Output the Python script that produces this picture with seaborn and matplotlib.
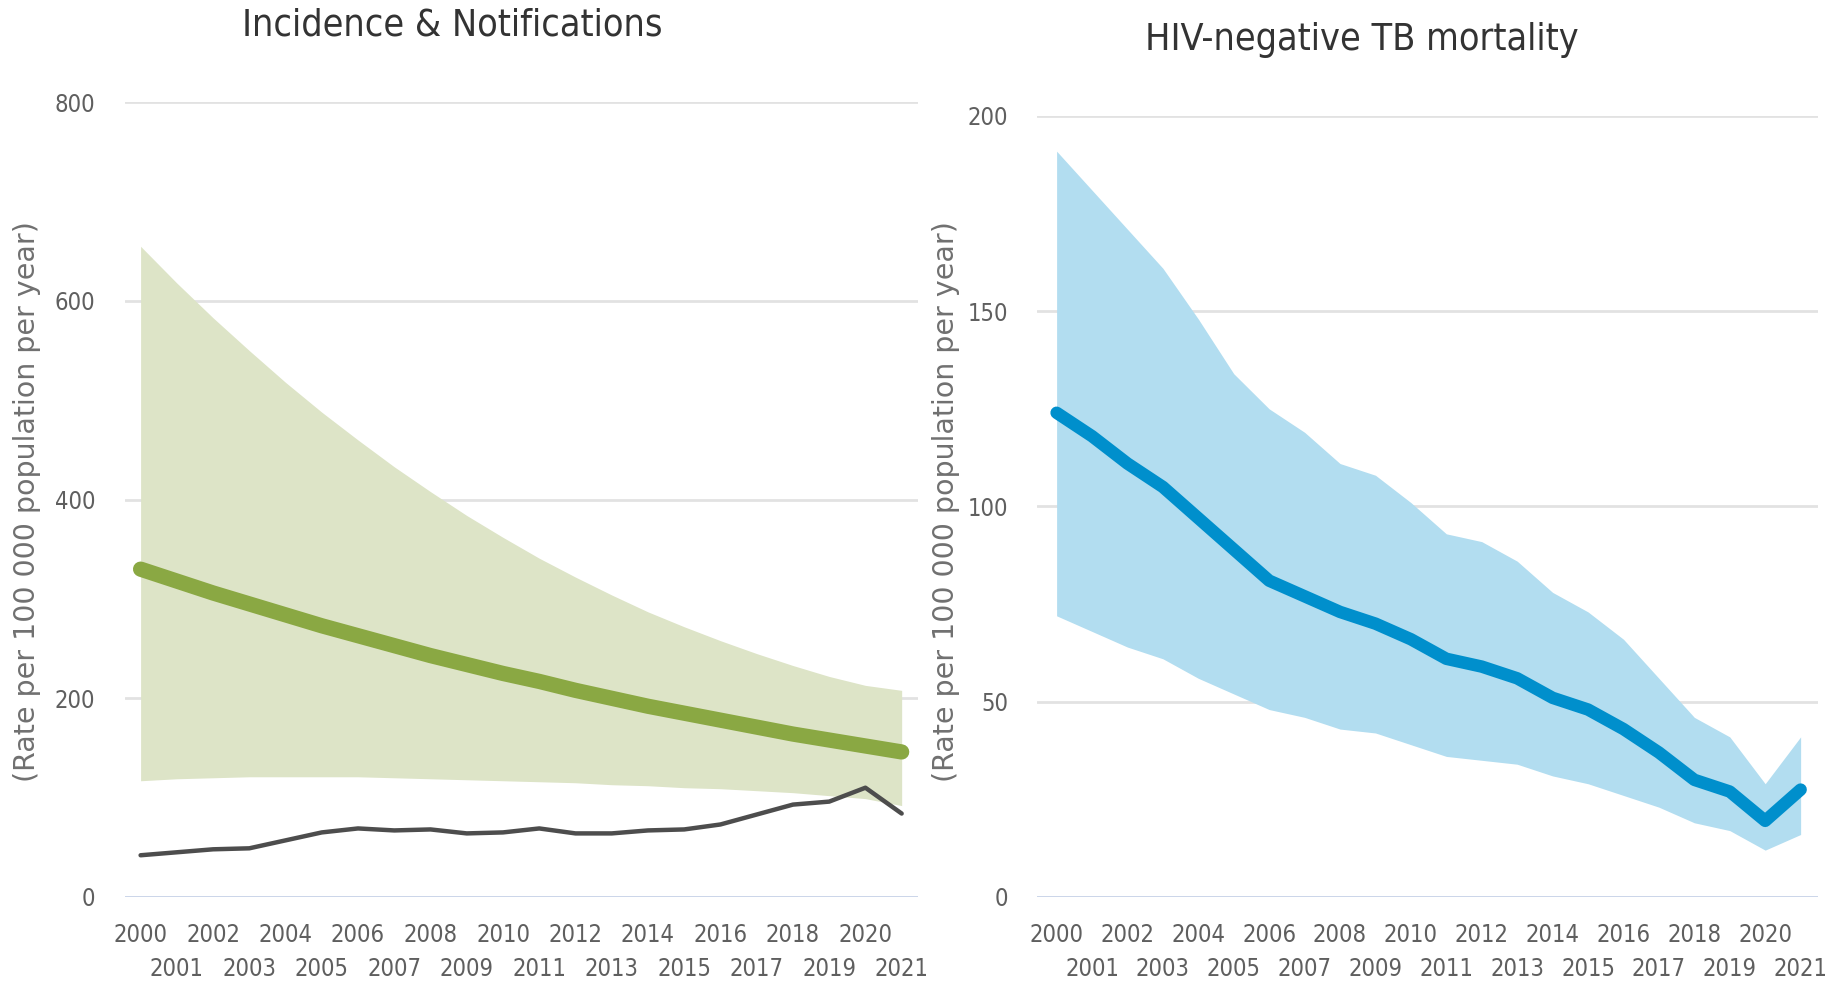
import numpy as np
import pandas as pd
import matplotlib
matplotlib.use("Agg")
import matplotlib.pyplot as plt
import seaborn as sns

sns.set_theme(style="white")
plt.rcParams['font.family'] = ['DejaVu Sans']

# --- data ---
years = list(range(2000, 2022))

inc_best = [330, 318, 306, 295, 284, 273, 263, 253, 243, 234, 225, 217,
            208, 200, 192, 185, 178, 171, 164, 158, 152, 146]
inc_hi = [655, 618, 583, 550, 518, 488, 460, 433, 408, 384, 362, 341,
          322, 304, 287, 272, 258, 245, 233, 222, 213, 208]
inc_lo = [117, 119, 120, 121, 121, 121, 121, 120, 119, 118, 117, 116,
          115, 113, 112, 110, 109, 107, 105, 102, 99, 92]
notif = [42, 45, 48, 49, 57, 65, 69, 67, 68, 64, 65, 69,
         64, 64, 67, 68, 73, 83, 93, 96, 110, 84]

mort_best = [124, 118, 111, 105, 97, 89, 81, 77, 73, 70, 66, 61,
             59, 56, 51, 48, 43, 37, 30, 27, 19.5, 27.5]
mort_hi = [191, 181, 171, 161, 148, 134, 125, 119, 111, 108, 101, 93,
           91, 86, 78, 73, 66, 56, 46, 41, 29, 41]
mort_lo = [72, 68, 64, 61, 56, 52, 48, 46, 43, 42, 39, 36,
           35, 34, 31, 29, 26, 23, 19, 17, 12, 16]

inc_ticks = [0, 200, 400, 600, 800]
mort_ticks = [0, 50, 100, 150, 200]
ylabel = "(Rate per 100 000 population per year)"

df = pd.DataFrame({"year": years, "inc": inc_best, "notif": notif, "mort": mort_best})

tick_col = "#5f5f5f"
grid_col = "#e2e2e2"
base_col = "#c9d5ea"

fig = plt.figure(figsize=(18.33, 9.83), dpi=100)
ax1 = fig.add_axes([0.068, 0.0875, 0.433, 0.8085])
ax2 = fig.add_axes([0.566, 0.0875, 0.426, 0.7945])

# left panel
ax1.fill_between(years, inc_lo, inc_hi, color="#dde4c7", lw=0, zorder=1)
sns.lineplot(data=df, x="year", y="inc", color="#8aa843", lw=11, ax=ax1,
             solid_capstyle="round", zorder=3)
sns.lineplot(data=df, x="year", y="notif", color="#4d4d4d", lw=3.2, ax=ax1, zorder=3)
ax1.set_ylim(0, 800)
ax1.set_xlim(1999.56, 2021.46)
ax1.set_yticks(inc_ticks)

# right panel
ax2.fill_between(years, mort_lo, mort_hi, color="#b2ddf0", lw=0, zorder=1)
sns.lineplot(data=df, x="year", y="mort", color="#008fcc", lw=9, ax=ax2,
             solid_capstyle="round", zorder=3)
ax2.set_ylim(0, 200)
ax2.set_xlim(1999.46, 2021.5)
ax2.set_yticks(mort_ticks)

even_years = [y for y in years if y % 2 == 0]
odd_years = [y for y in years if y % 2 == 1]
for ax in (ax1, ax2):
    for s in ax.spines.values():
        s.set_visible(False)
    ax.grid(axis="y", color=grid_col, lw=2, zorder=0)
    ax.grid(axis="x", visible=False)
    ax.set_axisbelow(True)
    ax.axhline(0, color=base_col, lw=2, zorder=2)
    # even years on the first row, odd years on the second
    ax.set_xticks(even_years)
    ax.set_xticklabels([str(y) for y in even_years])
    ax.set_xticks(odd_years, minor=True)
    ax.set_xticklabels([str(y) for y in odd_years], minor=True)
    ax.tick_params(axis="x", which="major", length=0, pad=19, labelsize=17, labelcolor=tick_col)
    ax.tick_params(axis="x", which="minor", length=0, pad=43, labelsize=17, labelcolor=tick_col)
    ax.tick_params(axis="y", length=0, pad=21, labelsize=17, labelcolor=tick_col)
    for t in (ax.get_xticklabels() + ax.get_xticklabels(minor=True)
              + ax.get_yticklabels()):
        t.set_fontstretch("condensed")
    ax.set_xlabel("")
    ax.set_ylabel("")

fig.text(0.0145, 0.49, ylabel, rotation=90, ha="center", va="center",
         fontsize=20.5, color="#707070", fontweight="medium")
fig.text(0.516, 0.49, ylabel, rotation=90, ha="center", va="center",
         fontsize=20.5, color="#707070", fontweight="medium")

fig.text(0.2465, 0.974, "Incidence & Notifications", ha="center", va="center",
         fontsize=27, color="#333333", fontstretch="condensed")
fig.text(0.743, 0.959, "HIV-negative TB mortality", ha="center", va="center",
         fontsize=27, color="#333333", fontstretch="condensed")

fig.savefig("out.png", dpi=100)
